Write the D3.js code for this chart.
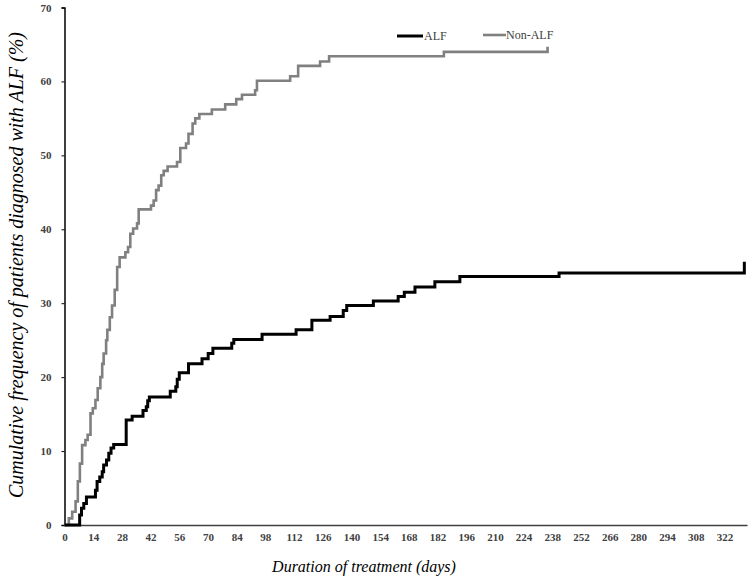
<!DOCTYPE html>
<html>
<head>
<meta charset="utf-8">
<script src="https://cdn.jsdelivr.net/npm/d3@7"></script>
<style>
  html, body { margin: 0; padding: 0; background: #fff; }
  svg { display: block; }
  text { font-family: "Liberation Serif", "Times New Roman", serif; }
</style>
</head>
<body>
<svg id="chart" width="750" height="580"></svg>
<script>
// ---- Data ----
const xTicks = [0,14,28,42,56,70,84,98,112,126,140,154,168,182,196,210,224,238,252,266,280,294,308,322];
const yTicks = [0,10,20,30,40,50,60,70];

const alfDays = [0, 7.4, 8.3, 9.4, 10.7, 15.1, 15.9, 17.2, 18.4, 19.1, 20.5, 21.6, 22.7, 24.0, 30.1, 33.0, 38.3, 39.9, 40.6, 41.4, 51.6, 54.3, 55.0, 56.0, 60.5, 67.1, 70.1, 72.4, 81.6, 82.6, 96.4, 113.0, 120.7, 129.6, 136.0, 137.7, 150.7, 162.8, 165.8, 171.0, 180.7, 192.9, 241.3, 331.7];
const alfValues = [0, 1.35, 2.25, 2.9, 3.8, 4.7, 5.9, 6.5, 7.2, 8.1, 8.8, 9.7, 10.4, 10.9, 14.2, 14.7, 15.5, 16.0, 16.8, 17.3, 18.1, 18.7, 19.7, 20.6, 21.8, 22.5, 23.2, 23.9, 24.6, 25.1, 25.8, 26.4, 27.7, 28.2, 29.0, 29.7, 30.3, 30.9, 31.5, 32.2, 32.9, 33.6, 34.1, 35.6];

const nonAlfDays = [0, 2.1, 3.75, 5.4, 6.5, 7.5, 8.6, 10.2, 11.3, 12.7, 13.8, 15.1, 16.2, 17.5, 18.4, 19.1, 20.3, 20.9, 22.1, 23.2, 24.5, 25.7, 26.9, 29.7, 31.0, 32.1, 33.5, 35.4, 36.2, 42.2, 43.5, 44.7, 45.9, 47.2, 48.4, 50.3, 54.9, 56.5, 59.3, 60.5, 62.5, 63.8, 65.8, 71.9, 78.4, 83.8, 86.6, 93.0, 93.9, 110.1, 114.0, 124.7, 129.1, 185.1, 235.7];
const nonAlfValues = [0, 0.9, 1.8, 3.2, 5.9, 8.3, 10.8, 11.5, 12.2, 15.1, 15.8, 16.9, 18.5, 20.0, 21.8, 23.2, 25.0, 26.4, 28.1, 29.7, 31.8, 34.9, 36.2, 36.9, 37.6, 39.4, 40.1, 40.8, 42.7, 43.2, 43.9, 45.3, 45.9, 47.3, 47.9, 48.5, 49.1, 51.0, 51.6, 52.9, 54.3, 55.0, 55.6, 56.2, 56.9, 57.6, 58.2, 58.8, 60.1, 60.7, 62.1, 62.7, 63.4, 64.0, 64.7];

const seriesNames = ["ALF", "Non-ALF"];

// ---- Chart ----
const svg = d3.select("#chart");
const x = d3.scaleLinear().domain([0, 333]).range([64.5, 747]);
const y = d3.scaleLinear().domain([0, 70]).range([525, 7.5]);

// axes
const yAxis = d3.axisLeft(y).tickValues(yTicks).tickSize(3).tickPadding(10);
const gy = svg.append("g").attr("transform", `translate(${x(0)},0)`).call(yAxis)
  .attr("font-family", null);
gy.select(".domain").attr("stroke", "#000").attr("stroke-width", 1.5);
gy.selectAll(".tick line").attr("stroke", "#000").attr("stroke-width", 1);
gy.selectAll(".tick text").style("font-family", "'Liberation Serif', serif")
  .attr("font-size", 11).attr("font-weight", "bold").attr("fill", "#404040");

const xAxis = d3.axisBottom(x).tickValues(xTicks).tickSize(0).tickPadding(8);
const gx = svg.append("g").attr("transform", `translate(0,${y(0)})`).call(xAxis)
  .attr("font-family", null);
gx.select(".domain").attr("stroke", "#404040").attr("stroke-width", 1.5);
gx.selectAll(".tick text").style("font-family", "'Liberation Serif', serif")
  .attr("font-size", 11).attr("font-weight", "bold").attr("fill", "#404040");

// lines
const line = d3.line().x(d => x(d[0])).y(d => y(d[1])).curve(d3.curveStepAfter);
const nonAlf = nonAlfDays.map((d, i) => [d, nonAlfValues[i]]);
const alf = alfDays.map((d, i) => [d, alfValues[i]]);

svg.append("path").datum(nonAlf).attr("d", line)
  .attr("fill", "none").attr("stroke", "#808080").attr("stroke-width", 2.6);
svg.append("path").datum(alf).attr("d", line)
  .attr("fill", "none").attr("stroke", "#000").attr("stroke-width", 3);

// legend
const legend = svg.append("g");
legend.append("line").attr("x1", 397).attr("x2", 423).attr("y1", 36).attr("y2", 36)
  .attr("stroke", "#000").attr("stroke-width", 3);
legend.append("text").attr("x", 424).attr("y", 40).text(seriesNames[0])
  .attr("font-size", 12).attr("fill", "#404040");
legend.append("line").attr("x1", 483).attr("x2", 506).attr("y1", 35).attr("y2", 35)
  .attr("stroke", "#808080").attr("stroke-width", 2.6);
legend.append("text").attr("x", 506).attr("y", 39).text(seriesNames[1])
  .attr("font-size", 12).attr("fill", "#404040");

// axis titles
svg.append("text").attr("x", 364).attr("y", 572).attr("text-anchor", "middle")
  .attr("font-style", "italic").attr("font-size", 16).attr("fill", "#000")
  .text("Duration of treatment (days)");
svg.append("text").attr("transform", "translate(23,265) rotate(-90)")
  .attr("text-anchor", "middle").attr("font-style", "italic").attr("font-size", 20)
  .attr("fill", "#000")
  .text("Cumulative frequency of patients diagnosed with ALF (%)");
</script>
</body>
</html>
